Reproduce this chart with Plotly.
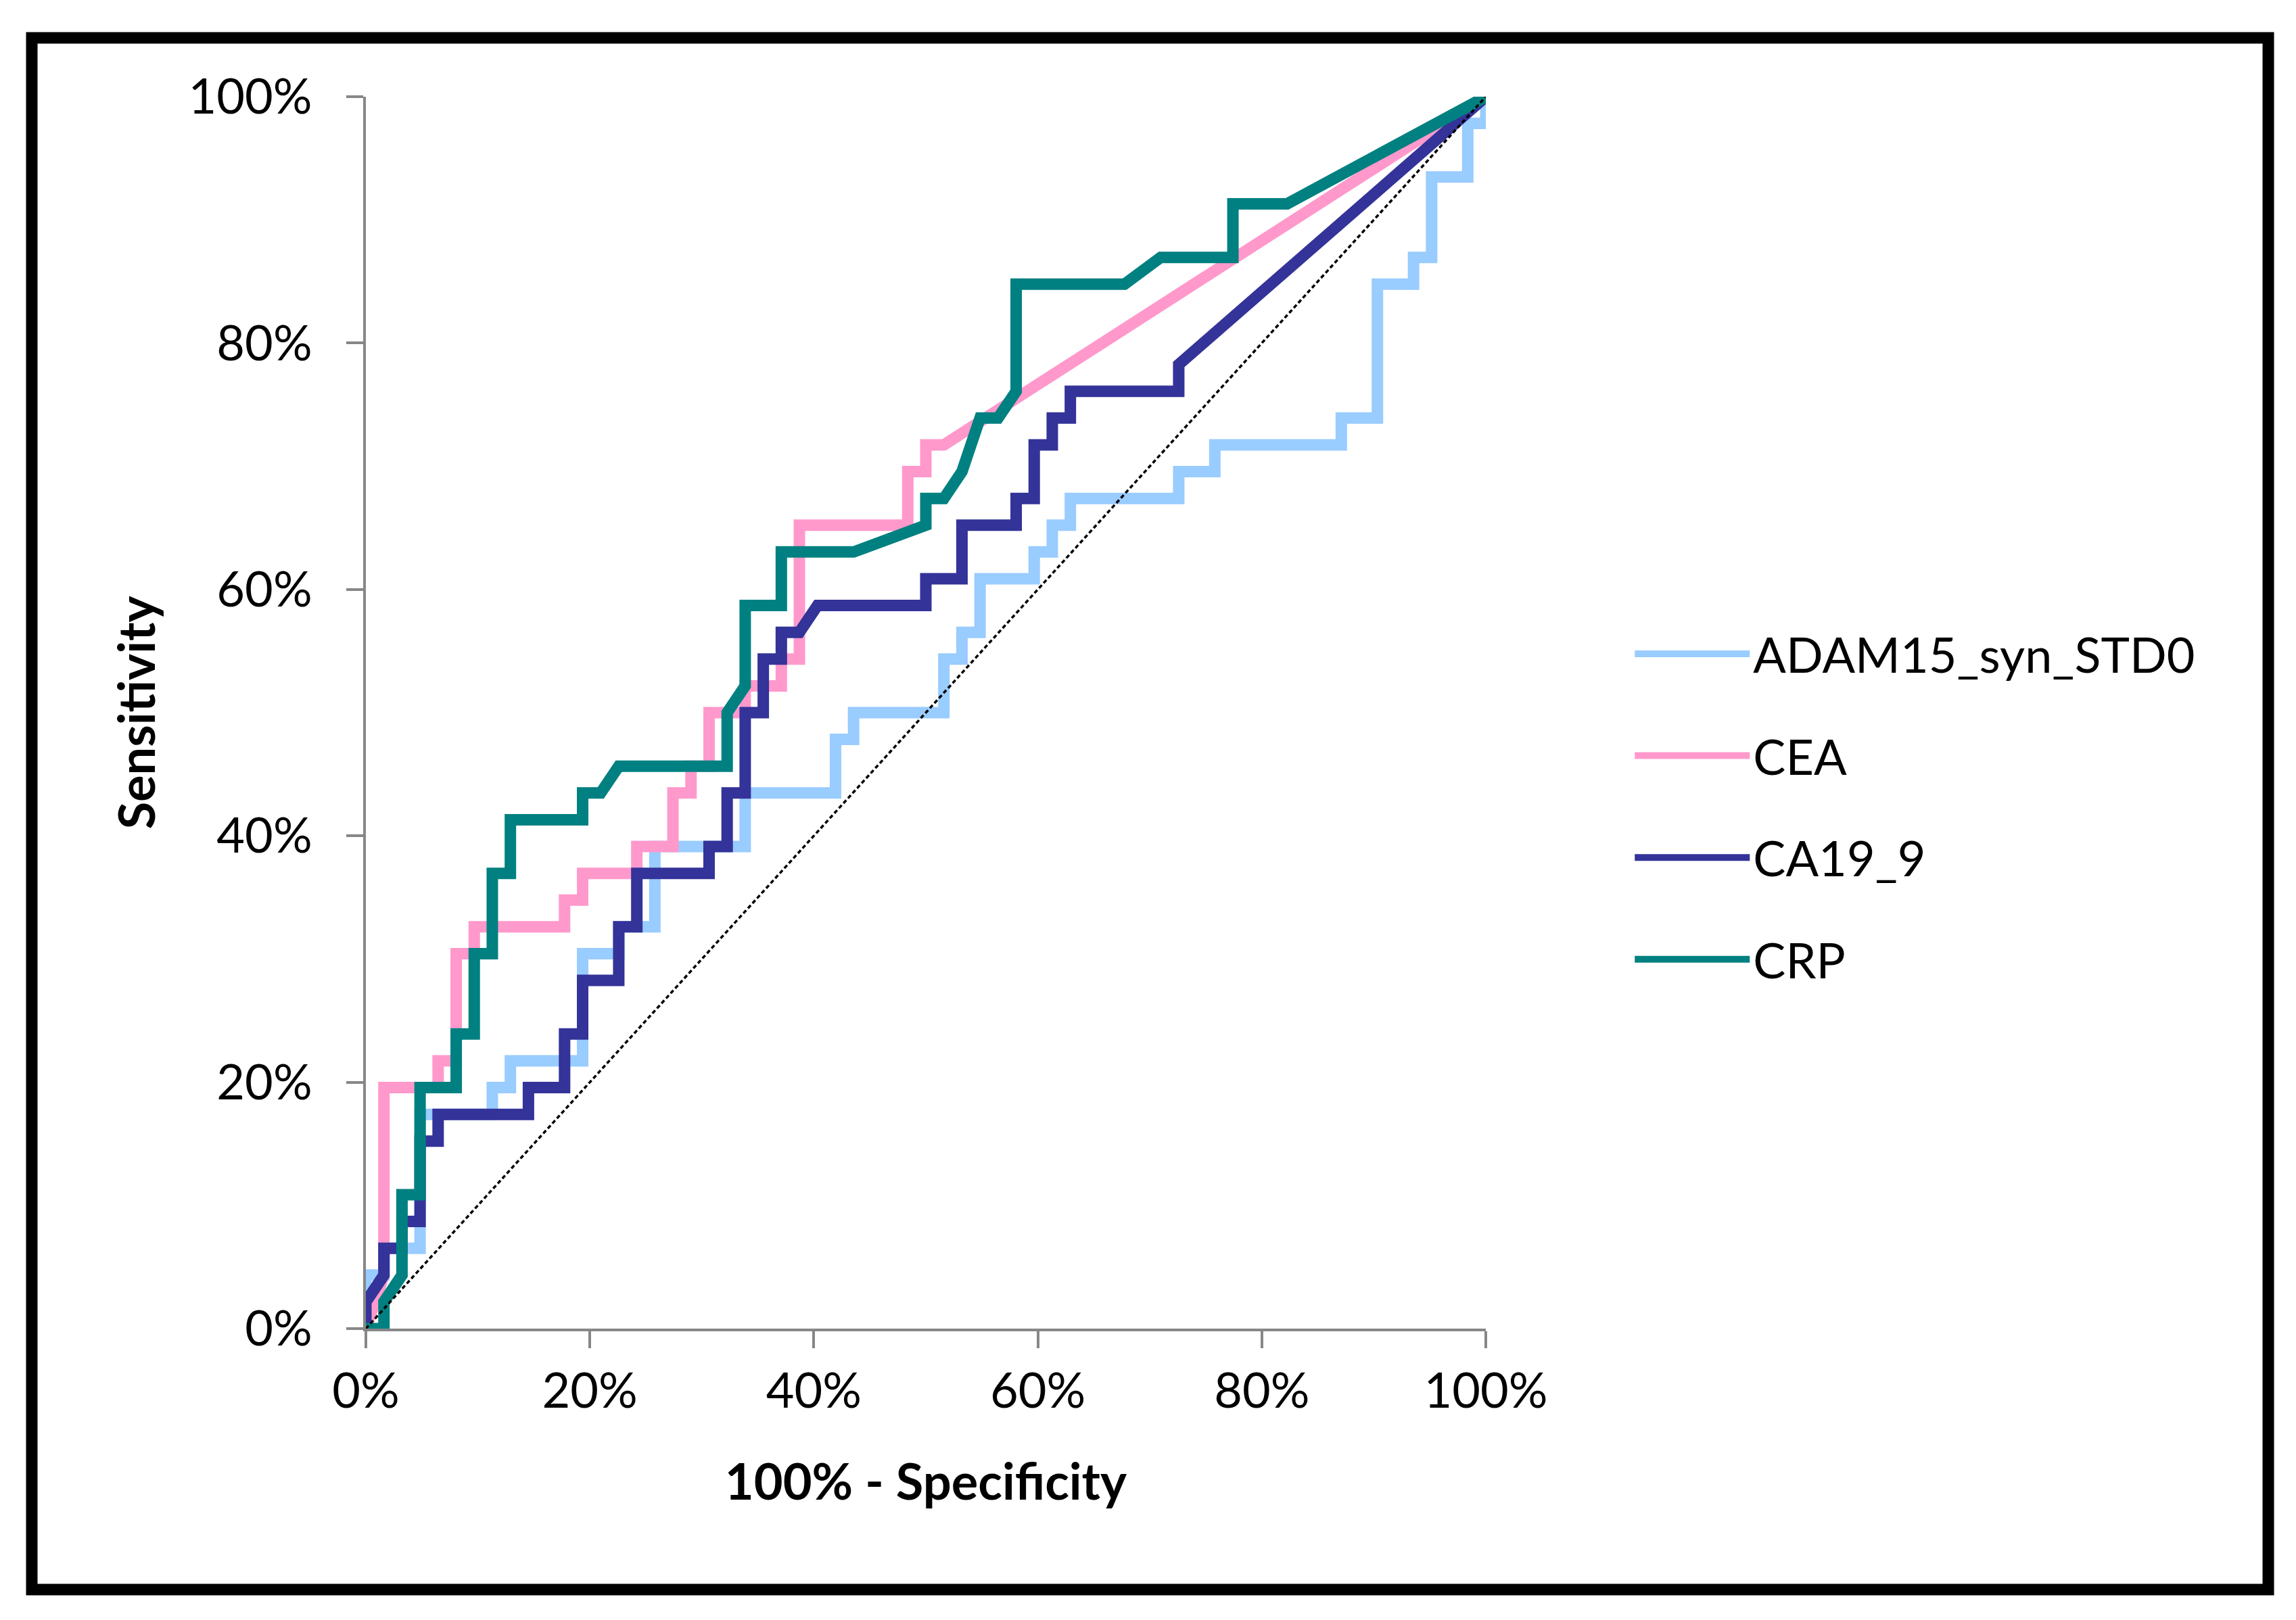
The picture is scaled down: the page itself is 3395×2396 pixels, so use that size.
import plotly.graph_objects as go

# ROC curves, as counts (false positives out of 62, true positives out of 46)
n_neg = 62
n_pos = 46

adam_fp = [0, 0, 1, 1, 3, 3, 7, 7, 8, 8, 12, 12, 14, 14, 16, 16, 21, 21, 26, 26, 27, 27, 32, 32, 33,
           33, 34, 34, 37, 37, 38, 38, 39, 39, 45, 45, 47, 47, 54, 54, 56, 56, 58, 58, 59, 59, 61, 61, 62, 62]
adam_tp = [0, 2, 2, 3, 3, 8, 8, 9, 9, 10, 10, 14, 14, 15, 15, 18, 18, 20, 20, 22, 22, 23, 23, 25, 25,
           26, 26, 28, 28, 29, 29, 30, 30, 31, 31, 32, 32, 33, 33, 34, 34, 39, 39, 40, 40, 43, 43, 45, 45, 46]

cea_fp = [0, 1, 1, 4, 4, 5, 5, 6, 6, 11, 11, 12, 12, 15, 15, 17, 17, 18, 18, 19, 19, 21, 21, 23, 23,
          24, 24, 30, 30, 31, 31, 32, 62]
cea_tp = [0, 2, 9, 9, 10, 10, 14, 14, 15, 15, 16, 16, 17, 17, 18, 18, 20, 20, 21, 21, 23, 23, 24, 24, 25,
          25, 30, 30, 32, 32, 33, 33, 46]

ca19_fp = [0, 0, 1, 1, 2, 2, 3, 3, 4, 4, 9, 9, 11, 11, 12, 12, 14, 14, 15, 15, 19, 19, 20, 20, 21, 21,
           22, 22, 23, 23, 24, 25, 31, 31, 33, 33, 36, 36, 37, 37, 38, 38, 39, 39, 45, 45, 62]
ca19_tp = [0, 1, 2, 3, 3, 4, 4, 7, 7, 8, 8, 9, 9, 11, 11, 13, 13, 15, 15, 17, 17, 18, 18, 20, 20, 23,
           23, 25, 25, 26, 26, 27, 27, 28, 28, 30, 30, 31, 31, 33, 33, 34, 34, 35, 35, 36, 46]

crp_fp = [0, 1, 1, 2, 2, 3, 3, 5, 5, 6, 6, 7, 7, 8, 8, 12, 12, 13, 14, 20, 20, 21, 21, 23, 23, 27,
          31, 31, 32, 33, 34, 35, 36, 36, 42, 44, 48, 48, 51, 62]
crp_tp = [0, 0, 1, 2, 5, 5, 9, 9, 11, 11, 14, 14, 17, 17, 19, 19, 20, 20, 21, 21, 23, 24, 27, 27, 29, 29,
          30, 31, 31, 32, 34, 34, 35, 39, 39, 40, 40, 42, 42, 46]

ref_x = [0, 1]
ref_y = [0, 1]

tick_vals = [0, 0.2, 0.4, 0.6, 0.8, 1.0]

series = [
    ("ADAM15_syn_STD0", adam_fp, adam_tp, "#99CCFF"),
    ("CEA", cea_fp, cea_tp, "#FF99CC"),
    ("CA19_9", ca19_fp, ca19_tp, "#333399"),
    ("CRP", crp_fp, crp_tp, "#008080"),
]

FONT = "Lato"
AXIS_GREY = "#878787"

fig = go.Figure()

for name, fp, tp, color in series:
    fig.add_trace(
        go.Scatter(
            name=name,
            x=[v / n_neg for v in fp],
            y=[v / n_pos for v in tp],
            mode="lines",
            line=dict(color=color, width=17),
            legendgroup=name,
            cliponaxis=False,
        )
    )

# chance line
fig.add_trace(
    go.Scatter(
        x=ref_x,
        y=ref_y,
        mode="lines",
        line=dict(color="black", width=3.5, dash="6px,4px"),
        showlegend=False,
        cliponaxis=False,
    )
)

axis_style = dict(
    range=[0, 1],
    tickvals=tick_vals,
    tickformat=".0%",
    showgrid=False,
    zeroline=False,
    showline=True,
    linecolor=AXIS_GREY,
    linewidth=4,
    ticks="outside",
    ticklen=25,
    tickwidth=4,
    tickcolor=AXIS_GREY,
    tickfont=dict(family=FONT, size=72, color="black"),
    layer="below traces",
    fixedrange=True,
)

fig.update_xaxes(
    **axis_style,
    ticklabelstandoff=2,
    title=dict(text="<b>100% - Specificity</b>", font=dict(family=FONT, size=74, color="black"), standoff=71),
)
fig.update_yaxes(
    **axis_style,
    ticklabelstandoff=36,
    title=dict(text="<b>Sensitivity</b>", font=dict(family=FONT, size=74, color="black"), standoff=26),
)

# black frame around the whole chart
fig.add_shape(
    type="rect",
    xref="paper",
    yref="paper",
    x0=-0.2983,
    x1=1.6987,
    y0=-0.2119,
    y1=1.0478,
    line=dict(color="black", width=17),
)

fig.update_layout(
    width=3395,
    height=2396,
    margin=dict(l=533, r=1206, t=135, b=439, autoexpand=False),
    plot_bgcolor="white",
    paper_bgcolor="white",
    font=dict(family=FONT, color="black"),
    legend=dict(
        x=1.13,
        y=0.577,
        xanchor="left",
        yanchor="top",
        font=dict(family=FONT, size=72, color="black"),
        itemwidth=170,
        tracegroupgap=54,
        bgcolor="rgba(0,0,0,0)",
    ),
    showlegend=True,
)

fig.write_html("out.html")
